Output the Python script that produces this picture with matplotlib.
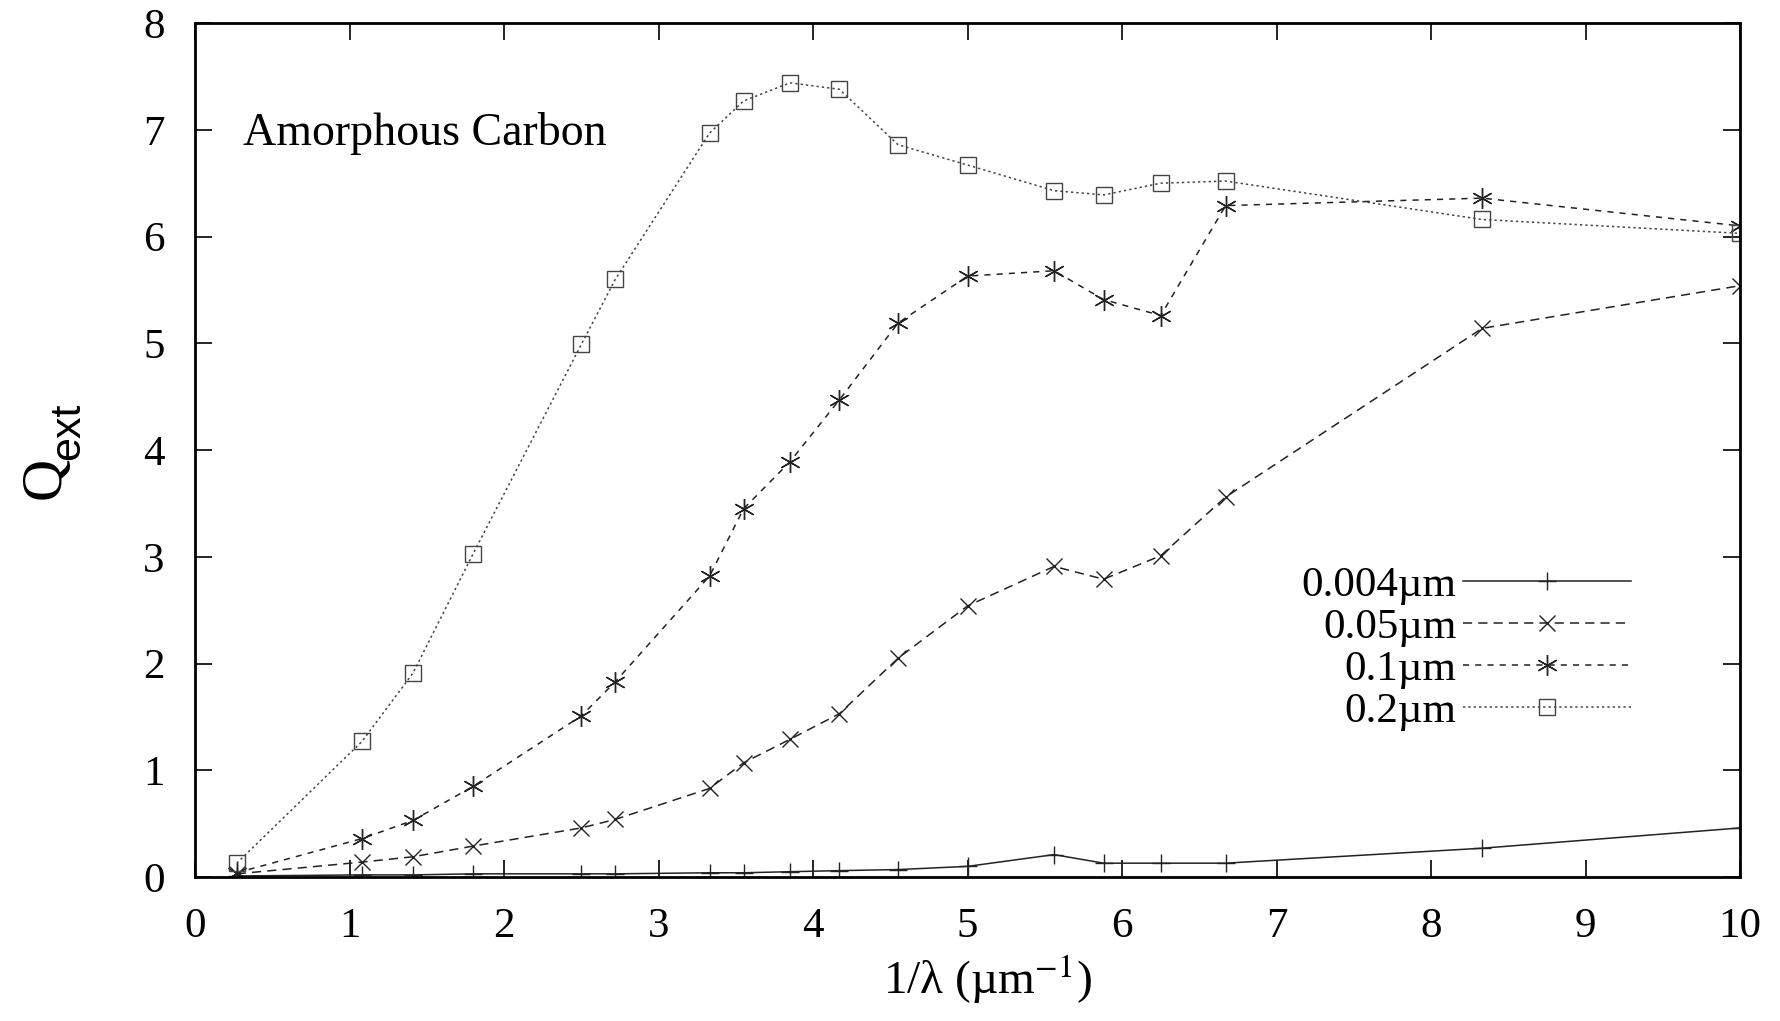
import matplotlib
matplotlib.use("Agg")
import matplotlib.pyplot as plt

plt.rcParams['font.family'] = ['Liberation Serif', 'DejaVu Serif']
plt.rcParams['mathtext.fontset'] = 'stix'

inv_lambda = [0.27, 1.08, 1.41, 1.80, 2.50, 2.72, 3.33, 3.55, 3.85, 4.17,
              4.55, 5.00, 5.56, 5.88, 6.25, 6.67, 8.33, 10.0]
q_0004 = [0.01, 0.02, 0.02, 0.03, 0.03, 0.03, 0.04, 0.04, 0.05, 0.06,
          0.07, 0.10, 0.21, 0.13, 0.13, 0.13, 0.27, 0.46]
q_005 = [0.03, 0.14, 0.19, 0.29, 0.46, 0.54, 0.83, 1.07, 1.29, 1.53,
         2.05, 2.54, 2.91, 2.79, 3.01, 3.56, 5.14, 5.54]
q_01 = [0.04, 0.36, 0.53, 0.85, 1.51, 1.83, 2.82, 3.45, 3.89, 4.47,
        5.19, 5.63, 5.68, 5.41, 5.26, 6.29, 6.36, 6.10]
q_02 = [0.13, 1.27, 1.91, 3.03, 4.99, 5.60, 6.97, 7.27, 7.44, 7.38,
        6.86, 6.67, 6.43, 6.39, 6.50, 6.52, 6.16, 6.03]
labels = ['0.004µm', '0.05µm', '0.1µm', '0.2µm']
xticks = list(range(0, 11))
yticks = list(range(0, 9))

fig = plt.figure(figsize=(17.8, 10.21), dpi=100)
ax = fig.add_axes([0.1096, 0.141, 0.868, 0.8364])

col = '#222222'
ax.plot(inv_lambda, q_0004, color=col, lw=1.1, ls='-', marker='+', ms=13, mew=1.0, label=labels[0])
ax.plot(inv_lambda, q_005, color=col, lw=1.1, ls=(0, (6, 4)), marker='x', ms=12, mew=1.0, label=labels[1])
ax.plot(inv_lambda, q_01, color=col, lw=1.1, ls=(0, (4, 4)), marker=(6, 2, 0), ms=15, mew=1.0, label=labels[2])
ax.plot(inv_lambda, q_02, color='#444444', lw=1.1, ls=(0, (1.5, 2)), marker='s', ms=12, mew=1.0,
        mfc='none', label=labels[3])

ax.set_xlim(0, 10)
ax.set_ylim(0, 8)
ax.set_xticks(xticks)
ax.set_yticks(yticks)
ax.tick_params(direction='in', length=12, width=1.2, top=True, right=True,
               labelsize=31, pad=22)
for s in ax.spines.values():
    s.set_linewidth(2)
    s.set_color('black')

ax.set_xlabel('1/λ (µm$^{-1}$)', fontsize=34)
ax.xaxis.set_label_coords(0.513, -0.088)

# y label: serif "Q" with sans-serif subscript "ext"
fig.text(60 / 1780, 1 - 499 / 1021, 'Q', fontsize=42, rotation=90,
         rotation_mode='anchor', ha='left', va='baseline',
         family=['Liberation Serif', 'DejaVu Serif'])
fig.text(79 / 1780, 1 - 460 / 1021, 'ext', fontsize=31, rotation=90,
         rotation_mode='anchor', ha='left', va='baseline',
         family=['Liberation Sans', 'DejaVu Sans'])

ax.text(0.31, 6.86, 'Amorphous Carbon', fontsize=33, va='baseline', ha='left')

leg = ax.legend(loc='upper right', bbox_to_anchor=(0.943, 0.39), frameon=False,
                markerfirst=False, fontsize=31, handlelength=3.9, labelspacing=0.07,
                handletextpad=0.15, borderpad=0)

fig.savefig('out.png', dpi=100, facecolor='white')
